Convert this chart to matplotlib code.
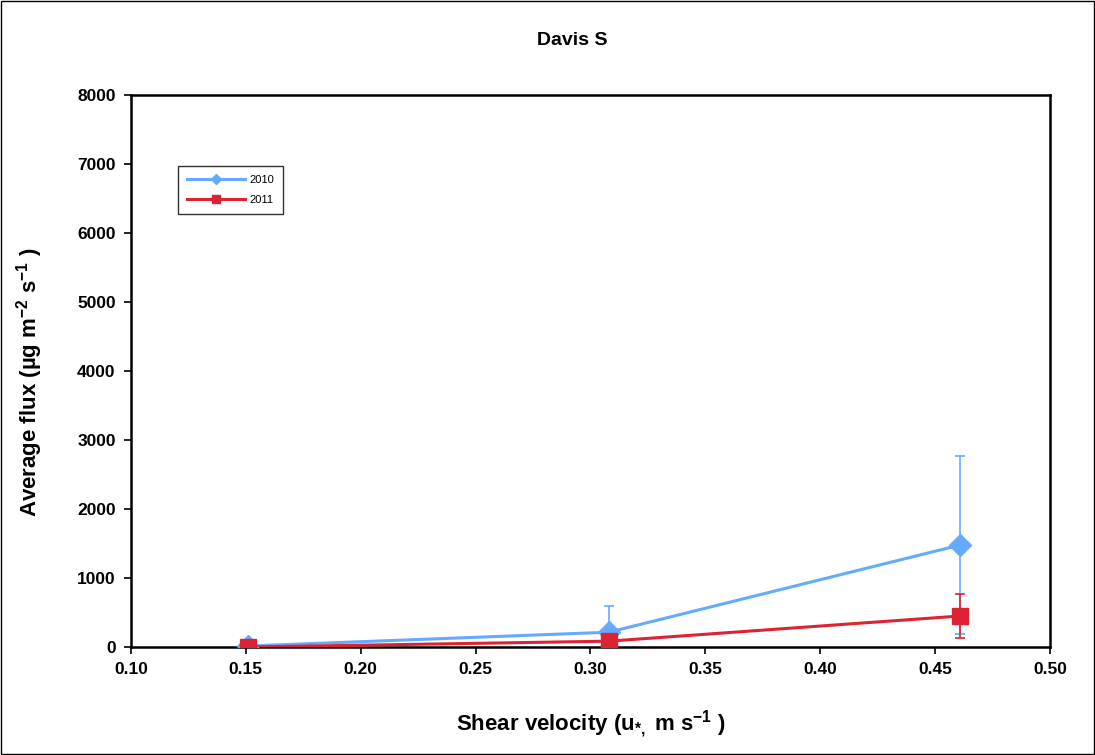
import numpy as np
import matplotlib.pyplot as plt

plt.rcParams['font.family'] = ['Liberation Sans', 'DejaVu Sans']
plt.rcParams['mathtext.fontset'] = 'custom'
plt.rcParams['mathtext.rm'] = 'Liberation Sans:bold'
plt.rcParams['mathtext.it'] = 'Liberation Sans:bold'
plt.rcParams['mathtext.bf'] = 'Liberation Sans:bold'
plt.rcParams['mathtext.default'] = 'bf'

# shear velocity (m/s) and average flux per year
u_star = [0.151, 0.308, 0.461]
flux_2010 = [15, 215, 1480]
err_2010 = [30, 380, 1290]
flux_2011 = [0, 85, 450]
err_2011 = [10, 40, 325]

xticks = [0.10, 0.15, 0.20, 0.25, 0.30, 0.35, 0.40, 0.45, 0.50]
yticks = [0, 1000, 2000, 3000, 4000, 5000, 6000, 7000, 8000]

blue = '#66aaff'
red = '#dd2233'

fig = plt.figure(figsize=(10.95, 7.55), dpi=100)
fig.patches.append(plt.Rectangle((0.001, 0.001), 0.998, 0.998, transform=fig.transFigure,
                                 fill=False, edgecolor='black', linewidth=1.0))
ax = fig.add_axes([0.1196, 0.143, 0.8393, 0.731])

# error bars first, lines and markers on top
ax.errorbar(u_star, flux_2010, yerr=err_2010, fmt='none', ecolor=blue, elinewidth=1.2,
            capsize=3.5, capthick=1.2, zorder=2)
ax.errorbar(u_star, flux_2011, yerr=err_2011, fmt='none', ecolor=red, elinewidth=1.2,
            capsize=3.5, capthick=1.2, zorder=2)
ax.plot(u_star, flux_2010, color=blue, linewidth=2.2, marker='D', markersize=11,
        label='2010', zorder=3)
ax.plot(u_star, flux_2011, color=red, linewidth=2.2, marker='s', markersize=11,
        label='2011', zorder=4)

ax.set_xlim(0.10, 0.50)
ax.set_ylim(0, 8000)
ax.set_xticks(xticks)
ax.set_xticklabels(['%.2f' % v for v in xticks], fontsize=12.5, fontweight='bold')
ax.set_yticks(yticks)
ax.set_yticklabels([str(v) for v in yticks], fontsize=12.5, fontweight='bold')
ax.tick_params(direction='out', length=5, width=1.2, pad=6)
for s in ax.spines.values():
    s.set_linewidth(1.8)

ax.set_xlabel('Shear velocity (u$_{*,}$ m s$^{-1}$ )', fontsize=16, fontweight='bold', labelpad=22)
ax.set_ylabel('Average flux (\u00b5g m$^{-2}$ s$^{-1}$ )', fontsize=16, fontweight='bold')
ax.yaxis.set_label_coords(-0.093, 0.48)
fig.text(0.523, 0.947, 'Davis S', ha='center', va='center', fontsize=14, fontweight='bold')

leg = ax.legend(loc='upper left', bbox_to_anchor=(0.1626, 0.780), bbox_transform=fig.transFigure,
                borderaxespad=0, fontsize=8, markerscale=0.5, frameon=True, fancybox=False,
                edgecolor='black', handlelength=5.2, handletextpad=0.4, borderpad=0.8,
                labelspacing=0.9)
leg.get_frame().set_linewidth(1.0)

fig.savefig('out.png', dpi=100)
